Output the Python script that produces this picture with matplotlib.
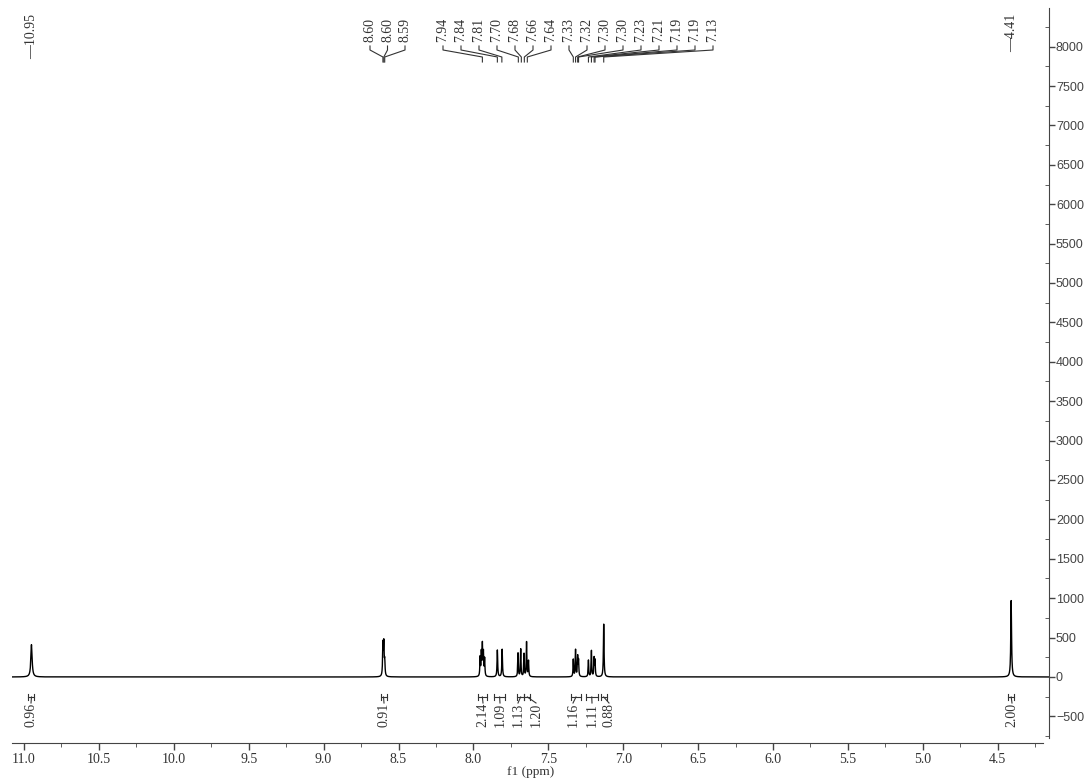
import numpy as np
import matplotlib
matplotlib.use('Agg')
import matplotlib.pyplot as plt
from matplotlib.ticker import MultipleLocator, FuncFormatter

# ── Spectrum lines (ppm, intensity, half width in ppm) ──────────────────
line_ppm = [10.950,
            8.604, 8.598, 8.592,
            7.955, 7.947, 7.940, 7.933, 7.925,
            7.840, 7.808,
            7.702, 7.684, 7.662, 7.645, 7.632,
            7.333, 7.318, 7.304, 7.298,
            7.232, 7.212, 7.194, 7.188,
            7.130,
            4.410]
line_height = [410,
               400, 400, 180,
               240, 290, 390, 290, 220,
               340, 350,
               300, 350, 290, 440, 200,
               220, 340, 250, 200,
               210, 330, 230, 200,
               670,
               970]
line_hw = [0.0050,
           0.0025, 0.0025, 0.0025,
           0.0022, 0.0022, 0.0022, 0.0022, 0.0022,
           0.0025, 0.0025,
           0.0022, 0.0022, 0.0022, 0.0022, 0.0022,
           0.0022, 0.0022, 0.0022, 0.0022,
           0.0022, 0.0022, 0.0022, 0.0022,
           0.0025,
           0.0030]

# ── Peak picking labels (grouped) ──────────────────────────────────────
pick_single = [10.95, 4.41]
pick_group_b = [8.604, 8.598, 8.592]
pick_group_c = [7.94, 7.84, 7.81, 7.70, 7.68, 7.66, 7.64, 7.333, 7.318,
                7.304, 7.298, 7.232, 7.212, 7.194, 7.188, 7.13]

# ── Integrals ──────────────────────────────────────────────────────────
int_values = [0.96, 0.91, 2.14, 1.09, 1.13, 1.20, 1.16, 1.11, 0.88, 2.00]
int_from = [10.97, 8.62, 7.97, 7.86, 7.71, 7.66, 7.35, 7.25, 7.15, 4.43]
int_to = [10.93, 8.58, 7.91, 7.79, 7.66, 7.62, 7.28, 7.17, 7.11, 4.39]

# label x positions in pixels (layout only)
int_label_px = [31, 384, 483, 500, 518, 536, 573, 592, 609, 1012]

# ── Layout helpers (pixels of the 1084x780 image) ─────────────────────
W, H = 1084, 780
AX_L, AX_R, AX_T, AX_B = 12, 1049, 8, 743
PX_11 = 24.0          # pixel of 11.0 ppm
PX_PER_PPM = 149.8


def px2ppm(px):
    return 11.0 - (px - PX_11) / PX_PER_PPM


def ypx(y):
    """pixel row -> axes fraction"""
    return (AX_B - y) / (AX_B - AX_T)


XLIM = (px2ppm(AX_L), px2ppm(AX_R))
YLIM = (-838, 8490)

x = np.arange(XLIM[1], XLIM[0], 0.0004)
y = np.zeros_like(x)
for p, h, w in zip(line_ppm, line_height, line_hw):
    y += h / (1.0 + ((x - p) / w) ** 2)

fig = plt.figure(figsize=(W / 100, H / 100), dpi=100)
ax = fig.add_axes([AX_L / W, (H - AX_B) / H, (AX_R - AX_L) / W, (AX_B - AX_T) / H])
ax.plot(x, y, color='black', lw=1.0)
ax.set_xlim(*XLIM)
ax.set_ylim(*YLIM)

axis_col = '#444444'
for s in ['top', 'left']:
    ax.spines[s].set_visible(False)
ax.spines['bottom'].set_color(axis_col)
ax.spines['right'].set_color(axis_col)
ax.spines['bottom'].set_bounds(XLIM[0], px2ppm(1043))
ax.spines['right'].set_bounds(-775, YLIM[1])

ax.xaxis.set_major_locator(MultipleLocator(0.5))
ax.xaxis.set_minor_locator(MultipleLocator(0.25))
ax.xaxis.set_major_formatter(FuncFormatter(lambda v, _: f'{v:.1f}'))
ax.tick_params(axis='x', which='major', direction='out', length=5, width=1,
               color=axis_col, pad=2, labelsize=10, labelcolor='#333333')
ax.tick_params(axis='x', which='minor', direction='out', length=3, color=axis_col)
for t in ax.get_xticklabels():
    t.set_family('Liberation Serif')

ax.yaxis.tick_right()
ax.yaxis.set_major_locator(MultipleLocator(500))
ax.yaxis.set_minor_locator(MultipleLocator(250))
ax.tick_params(axis='y', which='major', direction='out', length=4, width=1,
               color=axis_col, pad=1, labelsize=9, labelcolor='#444444')
ax.tick_params(axis='y', which='minor', direction='in', length=3, color=axis_col)
for t in ax.get_yticklabels():
    t.set_family('Liberation Sans')

ax.set_xlabel('f1 (ppm)', family='Liberation Serif', fontsize=9.5,
              color='#333333', labelpad=0)

trans = ax.get_xaxis_transform()
lbl_kw = dict(rotation=90, family='Liberation Serif', fontsize=10,
              color='#333333', transform=trans, ha='center')

# singlet labels with a dash
for p in pick_single:
    ax.text(p, ypx(14), f'\u2014{p:.2f}', va='top', **lbl_kw)


def label_group(peaks, start_px, step_px):
    for i, p in enumerate(peaks):
        lx = px2ppm(start_px + i * step_px)
        ax.text(lx, ypx(18), f'{p:.2f}', va='top', **lbl_kw)
        ax.plot([lx, lx, p, p], [ypx(46), ypx(50), ypx(57), ypx(62)],
                color='#333333', lw=0.8, transform=trans, clip_on=False)


label_group(pick_group_b, 370, 17.5)
label_group(pick_group_c, 443, 18)

# integrals below baseline
for v, a, b, lpx in zip(int_values, int_from, int_to, int_label_px):
    lx = px2ppm(lpx)
    mid = (a + b) / 2
    yb = ypx(697)
    cap = 3 / (AX_B - AX_T)
    ax.plot([a, b], [yb, yb], color='#333333', lw=0.8, transform=trans)
    ax.plot([a, a], [yb - cap, yb + cap], color='#333333', lw=0.8, transform=trans)
    ax.plot([b, b], [yb - cap, yb + cap], color='#333333', lw=0.8, transform=trans)
    ax.plot([mid, lx], [yb, ypx(703)], color='#333333', lw=0.8, transform=trans)
    ax.text(lx, ypx(703), f'{v:.2f}', va='top', **lbl_kw)

fig.savefig('out.png', dpi=100)
